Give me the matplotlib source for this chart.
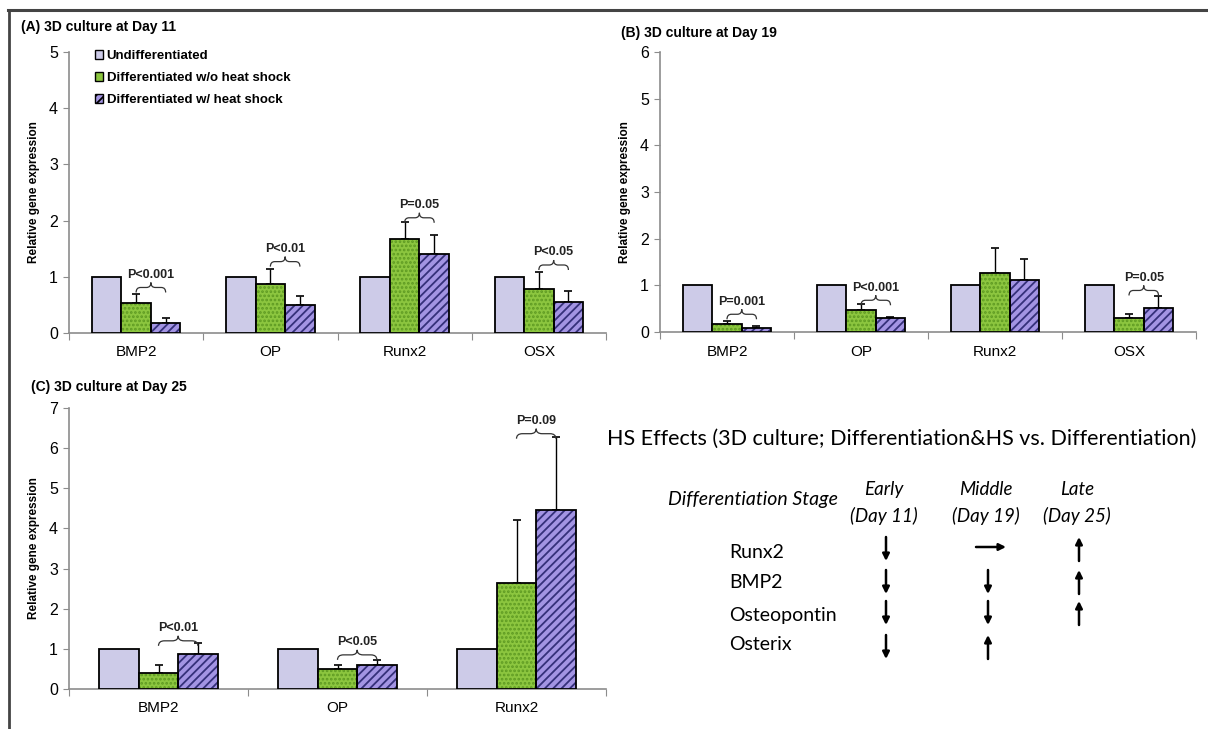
import numpy as np
import matplotlib
matplotlib.use("Agg")
import matplotlib.pyplot as plt
from matplotlib.path import Path
from matplotlib.patches import PathPatch, Patch

plt.rcParams['font.family'] = ['Liberation Sans', 'DejaVu Sans']
plt.rcParams['hatch.linewidth'] = 1.3

# ---- data ----
series = ["Undifferentiated", "Differentiated w/o heat shock", "Differentiated w/ heat shock"]

genes_A = ["BMP2", "OP", "Runx2", "OSX"]
undiff_A = [1, 1, 1, 1]
nohs_A = [0.53, 0.87, 1.68, 0.78]
nohs_err_A = [0.16, 0.26, 0.29, 0.30]
hs_A = [0.18, 0.50, 1.41, 0.55]
hs_err_A = [0.09, 0.15, 0.34, 0.19]
p_A = ["P<0.001", "P<0.01", "P=0.05", "P<0.05"]
p_lvl_A = [0.81, 1.27, 2.05, 1.21]

genes_B = ["BMP2", "OP", "Runx2", "OSX"]
undiff_B = [1, 1, 1, 1]
nohs_B = [0.18, 0.48, 1.27, 0.29]
nohs_err_B = [0.06, 0.11, 0.53, 0.10]
hs_B = [0.09, 0.29, 1.11, 0.51]
hs_err_B = [0.03, 0.03, 0.45, 0.27]
p_B = ["P=0.001", "P<0.001", None, "P=0.05"]
p_lvl_B = [0.38, 0.68, None, 0.89]

genes_C = ["BMP2", "OP", "Runx2"]
undiff_C = [1, 1, 1]
nohs_C = [0.39, 0.51, 2.63]
nohs_err_C = [0.22, 0.08, 1.58]
hs_C = [0.86, 0.61, 4.46]
hs_err_C = [0.29, 0.10, 1.82]
p_C = ["P<0.01", "P<0.05", "P=0.09"]
p_lvl_C = [1.20, 0.85, 6.36]

stage_names = ["Early", "Middle", "Late"]
stage_days = ["(Day 11)", "(Day 19)", "(Day 25)"]
table_genes = ["Runx2", "BMP2", "Osteopontin", "Osterix"]
early_effect = ["down", "down", "down", "down"]
middle_effect = ["right", "down", "down", "up"]
late_effect = ["up", "up", "up", None]

# ---- styles ----
c_undiff = "#CDCBE8"
c_green = "#8CC63F"
c_green_dot = "#5E9A22"
c_purple = "#A394E3"
c_purple_hatch = "#35307A"
axis_grey = "#8C8C8C"

W, H = 1208, 729
fig = plt.figure(figsize=(W / 100, H / 100), dpi=100)


def brace(ax, x0, x1, y0):
    # small curly bracket opening downwards
    ppu = ax.bbox.height / (ax.get_ylim()[1] - ax.get_ylim()[0])
    d = 5 / ppu
    e = (x1 - x0) * 0.15
    xc = (x0 + x1) / 2
    verts = [(x0, y0 - d), (x0, y0), (x0 + e, y0),
             (xc - e, y0), (xc, y0), (xc, y0 + d),
             (xc, y0), (xc + e, y0),
             (x1 - e, y0), (x1, y0), (x1, y0 - d)]
    codes = [Path.MOVETO, Path.CURVE3, Path.CURVE3,
             Path.LINETO, Path.CURVE3, Path.CURVE3,
             Path.CURVE3, Path.CURVE3,
             Path.LINETO, Path.CURVE3, Path.CURVE3]
    ax.add_patch(PathPatch(Path(verts, codes), fill=False, lw=0.9,
                           edgecolor="#333333", zorder=5))


def panel(rect, genes, undiff, nohs, nohs_err, hs, hs_err, pvals, plvls, ymax, title, title_xy):
    ax = fig.add_axes(rect)
    n = len(genes)
    x = np.arange(n)
    w = 0.22
    ax.set_xlim(-0.5, n - 0.5)
    ax.set_ylim(0, ymax)

    ax.bar(x - w, undiff, w, color=c_undiff, edgecolor="black", lw=1.3, zorder=3)
    ax.bar(x, nohs, w, color=c_green, edgecolor=c_green_dot, hatch="....", lw=0, zorder=3)
    ax.bar(x, nohs, w, color="none", edgecolor="black", lw=1.3, zorder=4)
    ax.bar(x + w, hs, w, color=c_purple, edgecolor=c_purple_hatch, hatch="////", lw=0, zorder=3)
    ax.bar(x + w, hs, w, color="none", edgecolor="black", lw=1.3, zorder=4)

    ax.errorbar(x, nohs, yerr=[np.zeros(n), nohs_err], fmt="none", ecolor="black",
                elinewidth=1, capsize=3, capthick=1.2, zorder=2)
    ax.errorbar(x + w, hs, yerr=[np.zeros(n), hs_err], fmt="none", ecolor="black",
                elinewidth=1, capsize=3, capthick=1.2, zorder=2)

    for i in range(n):
        if pvals[i] is None:
            continue
        brace(ax, x[i], x[i] + w, plvls[i])
        ax.annotate(pvals[i], xy=(x[i] + w / 2, plvls[i]), xytext=(0, 9),
                    textcoords="offset points", ha="center", va="center",
                    fontsize=9, fontweight="bold", color="#222222", zorder=6)

    for s in ["top", "right"]:
        ax.spines[s].set_visible(False)
    for s in ["left", "bottom"]:
        ax.spines[s].set_color(axis_grey)
        ax.spines[s].set_linewidth(1.2)
    ax.set_yticks(np.arange(0, ymax + 1))
    ax.tick_params(axis="y", direction="out", length=4, color=axis_grey,
                   labelsize=11.5, pad=4)
    ax.set_xticks(np.arange(n + 1) - 0.5)
    ax.set_xticklabels([])
    ax.set_xticks(x, minor=True)
    ax.set_xticklabels(genes, minor=True, fontsize=11)
    ax.tick_params(axis="x", which="major", direction="out", length=5, color=axis_grey)
    ax.tick_params(axis="x", which="minor", length=0, pad=9)
    ax.set_ylabel("Relative gene expression", fontsize=8.5, fontweight="bold")
    ax.yaxis.set_label_coords(-0.054, 0.5)
    fig.text(title_xy[0] / W, 1 - title_xy[1] / H, title, fontsize=10,
             fontweight="bold", ha="left", va="center")
    return ax


axA = panel([69 / W, 1 - 333 / H, 537 / W, 281 / H], genes_A, undiff_A, nohs_A, nohs_err_A,
            hs_A, hs_err_A, p_A, p_lvl_A, 5, "(A) 3D culture at Day 11", (21, 27))
axB = panel([660 / W, 1 - 332 / H, 536 / W, 280 / H], genes_B, undiff_B, nohs_B, nohs_err_B,
            hs_B, hs_err_B, p_B, p_lvl_B, 6, "(B) 3D culture at Day 19", (621, 33))
axC = panel([69 / W, 1 - 689 / H, 537 / W, 281 / H], genes_C, undiff_C, nohs_C, nohs_err_C,
            hs_C, hs_err_C, p_C, p_lvl_C, 7, "(C) 3D culture at Day 25", (31, 387))

handles = [Patch(facecolor=c_undiff, edgecolor="black", lw=1),
           Patch(facecolor=c_green, edgecolor="black", lw=1),
           Patch(facecolor=c_purple, edgecolor="black", lw=1, hatch="////")]
axA.legend(handles, series, loc="upper left", bbox_to_anchor=(0.038, 1.025), frameon=False,
           prop={"weight": "bold", "size": 9.5}, handlelength=0.65, handleheight=0.65,
           handletextpad=0.25, labelspacing=0.75, borderaxespad=0)

# ---- frame and summary table (pixel coordinates) ----
ov = fig.add_axes([0, 0, 1, 1], zorder=-1)
ov.set_xlim(0, W)
ov.set_ylim(H, 0)
ov.axis("off")
ov.plot([8, W], [10, 10], color="#444444", lw=2.2)
ov.plot([9, 9], [10, H], color="#444444", lw=2)

tfont = ["Lato", "DejaVu Sans"]
ov.text(902, 439, "HS Effects (3D culture; Differentiation&HS vs. Differentiation)",
        family=tfont, fontsize=15.5, ha="center", va="center")
ov.text(753, 499, "Differentiation Stage", family=tfont, style="italic",
        fontsize=14, ha="center", va="center")
col_x = [886, 988, 1079]
for cx, nm, dy in zip(col_x, stage_names, stage_days):
    ov.text(cx - 2, 489, nm, family=tfont, style="italic", fontsize=13.5, ha="center", va="center")
    ov.text(cx - 2, 516, dy, family=tfont, style="italic", fontsize=13.5, ha="center", va="center")

row_y = [549, 582, 613, 647]
row_lbl_y = [553, 582, 616, 645]
for gy, g in zip(row_lbl_y, table_genes):
    ov.text(729, gy, g, family=tfont, fontsize=14, ha="left", va="center")

arrow_kw = dict(arrowstyle="-|>", color="black", lw=1.8, mutation_scale=10,
                shrinkA=0, shrinkB=0)
for cx, effects in zip(col_x, [early_effect, middle_effect, late_effect]):
    for ry, eff in zip(row_y, effects):
        if eff == "down":
            ov.annotate("", xy=(cx, ry + 12), xytext=(cx, ry - 12), arrowprops=arrow_kw)
        elif eff == "up":
            ov.annotate("", xy=(cx, ry - 12), xytext=(cx, ry + 12), arrowprops=arrow_kw)
        elif eff == "right":
            ov.annotate("", xy=(cx + 18, ry - 2), xytext=(cx - 12, ry - 2), arrowprops=arrow_kw)

fig.savefig("out.png", dpi=100)
